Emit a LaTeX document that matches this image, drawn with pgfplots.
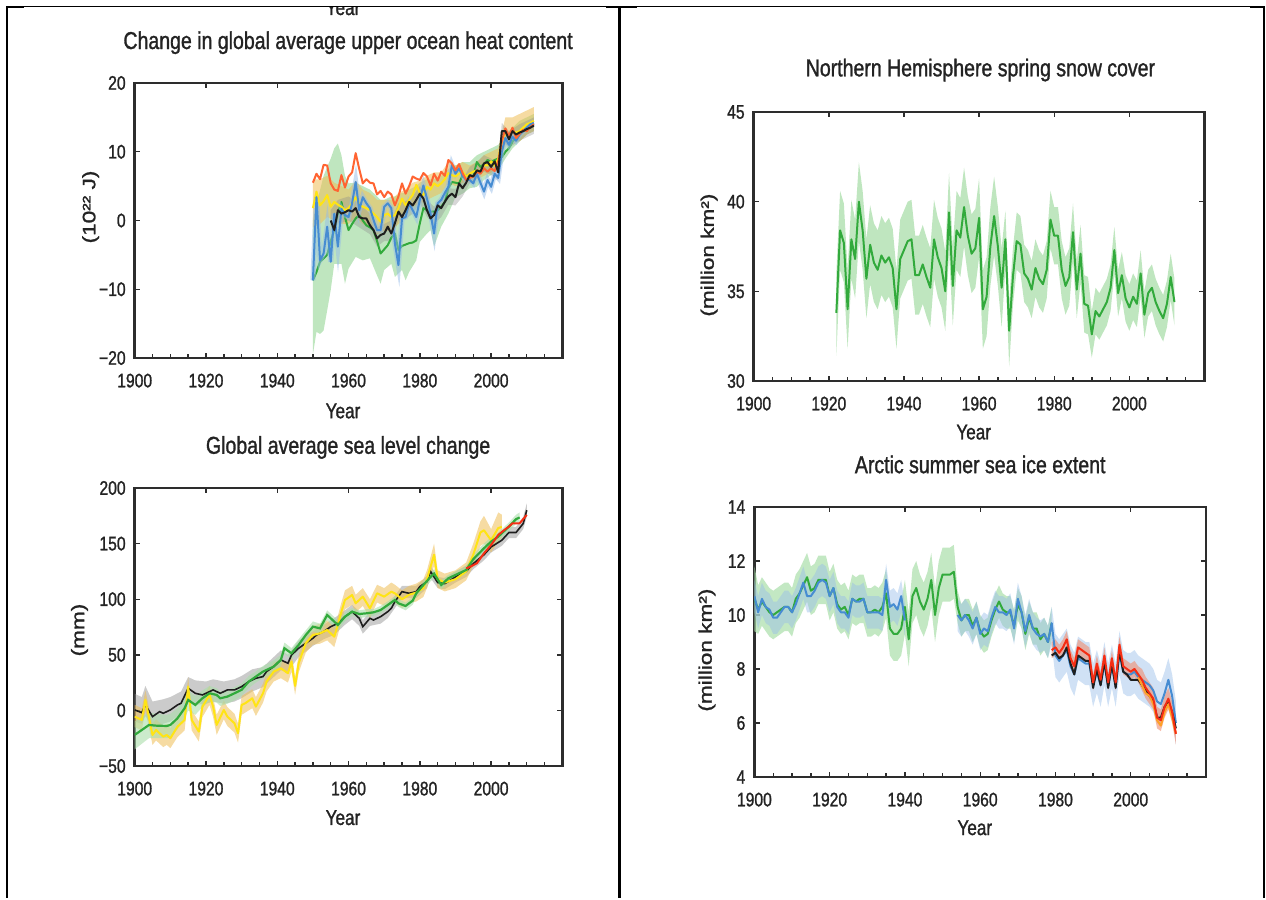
\documentclass[border=0pt]{standalone}
\usepackage{fontspec}
\setmainfont[FakeStretch=0.8, FakeBold=1.2]{Liberation Sans}
\newfontfamily\ylfont[FakeBold=1.2]{Liberation Sans}
\usepackage{graphicx}
\usepackage{pgfplots}
\usepackage{pgfplotstable}
\pgfplotsset{compat=1.18}
\usepgfplotslibrary{fillbetween}

\definecolor{axcol}{RGB}{45,45,45}
\definecolor{txtcol}{RGB}{35,35,35}
\definecolor{cgreen}{RGB}{50,170,60}
\definecolor{cgreenband}{RGB}{170,222,170}
\definecolor{cblue}{RGB}{70,140,210}
\definecolor{cblueband}{RGB}{150,188,232}
\definecolor{corange}{RGB}{255,100,50}
\definecolor{cyellow}{RGB}{255,228,20}
\definecolor{cyelband}{RGB}{238,190,85}
\definecolor{cgrayband}{RGB}{140,140,140}
\definecolor{cblack}{RGB}{30,30,30}
\definecolor{cred}{RGB}{245,45,20}
\definecolor{credband}{RGB}{240,140,110}
\definecolor{corline}{RGB}{255,160,40}

\newcommand\ticksz{\fontsize{9.8}{11}\selectfont}
\newcommand\titlesz{\fontsize{12.2}{14}\selectfont}
\newcommand\yearsz{\fontsize{10.7}{12}\selectfont}
\newcommand\ylsz{\ylfont\fontsize{11.3}{13}\selectfont}

% ---------- ocean heat content ----------
\pgfplotstableread[row sep=\\]{yr v\\
1950 5.5\\ 1951 6.8\\ 1952 6.0\\ 1953 8.1\\ 1954 8.0\\ 1955 5.4\\ 1956 4.5\\ 1957 4.3\\ 1958 6.6\\ 1959 4.8\\
1960 6.4\\ 1961 7.0\\ 1962 9.8\\ 1963 7.5\\ 1964 5.4\\ 1965 6.0\\ 1966 5.5\\ 1967 5.4\\ 1968 3.8\\ 1969 4.3\\
1970 3.4\\ 1971 4.2\\ 1972 3.8\\ 1973 2.2\\ 1974 3.5\\ 1975 5.4\\ 1976 3.9\\ 1977 5.0\\ 1978 6.4\\ 1979 6.1\\
1980 5.9\\ 1981 6.9\\ 1982 6.4\\ 1983 5.1\\ 1984 6.8\\ 1985 5.8\\ 1986 7.1\\ 1987 6.5\\ 1988 8.8\\ 1989 8.3\\
1990 7.3\\ 1991 8.2\\ 1992 6.9\\ 1993 5.9\\ 1994 6.2\\ 1995 6.4\\ 1996 7.1\\ 1997 6.8\\ 1998 7.6\\ 1999 7.1\\
2000 7.6\\ 2001 7.2\\ 2002 8.6\\ 2003 11.5\\ 2004 13.4\\ 2005 12.3\\ 2006 13.5\\ 2007 12.0\\ 2008 12.6\\ 2009 13.2\\
2010 13.0\\ 2011 13.6\\ 2012 14.0\\
}\ohcOrange

\pgfplotstableread[row sep=\\]{yr v\\
1950 1.8\\ 1951 4.2\\ 1952 2.2\\ 1953 2.8\\ 1954 3.7\\ 1955 2.0\\ 1956 2.7\\ 1957 2.3\\ 1958 2.0\\ 1959 1.5\\
1960 1.8\\ 1961 2.5\\ 1962 3.4\\ 1963 2.4\\ 1964 2.0\\ 1965 1.8\\ 1966 1.5\\ 1967 1.0\\ 1968 0.5\\ 1969 -0.2\\
1970 0.8\\ 1971 1.0\\ 1972 0.5\\ 1973 0.8\\ 1974 1.8\\ 1975 3.2\\ 1976 2.2\\ 1977 3.0\\ 1978 3.7\\ 1979 5.2\\
1980 4.0\\ 1981 3.7\\ 1982 4.9\\ 1983 4.5\\ 1984 5.4\\ 1985 5.0\\ 1986 5.4\\ 1987 6.0\\ 1988 6.9\\ 1989 6.6\\
1990 6.4\\ 1991 6.8\\ 1992 7.1\\ 1993 6.4\\ 1994 6.8\\ 1995 7.1\\ 1996 7.3\\ 1997 7.0\\ 1998 8.1\\ 1999 8.0\\
2000 8.6\\ 2001 8.0\\ 2002 9.0\\ 2003 11.5\\ 2004 12.8\\ 2005 12.5\\ 2006 13.0\\ 2007 12.8\\ 2008 13.0\\ 2009 13.5\\
2010 14.0\\ 2011 14.2\\ 2012 14.5\\
}\ohcYellow

\pgfplotstableread[row sep=\\]{yr v\\
1950 -8.7\\ 1951 3.4\\ 1952 -5.8\\ 1953 -4.8\\ 1954 -0.9\\ 1955 -6.0\\ 1956 1.0\\ 1957 -3.8\\ 1958 1.7\\ 1959 0.8\\
1960 0.5\\ 1961 2.5\\ 1962 5.6\\ 1963 1.5\\ 1964 3.4\\ 1965 2.5\\ 1966 1.8\\ 1967 0.1\\ 1968 -1.4\\ 1969 -1.4\\
1970 2.0\\ 1971 2.5\\ 1972 1.8\\ 1973 -3.3\\ 1974 -6.5\\ 1975 0.3\\ 1976 0.5\\ 1977 2.5\\ 1978 1.5\\ 1979 0.5\\
1980 3.0\\ 1981 5.1\\ 1982 3.2\\ 1983 1.0\\ 1984 -1.9\\ 1985 2.5\\ 1986 3.0\\ 1987 4.0\\ 1988 4.9\\ 1989 8.1\\
1990 6.8\\ 1991 7.6\\ 1992 6.5\\ 1993 5.9\\ 1994 5.9\\ 1995 5.4\\ 1996 6.8\\ 1997 5.5\\ 1998 4.2\\ 1999 5.9\\
2000 4.9\\ 2001 6.8\\ 2002 6.2\\ 2003 10.0\\ 2004 12.0\\ 2005 11.0\\ 2006 12.2\\ 2007 11.6\\ 2008 12.5\\ 2009 13.0\\
2010 13.5\\ 2011 14.0\\ 2012 14.2\\
}\ohcBlue

\pgfplotstableread[row sep=\\]{yr v\\
1950 -8.7\\ 1951 -7.5\\ 1952 -6.0\\ 1953 -5.5\\ 1954 -5.0\\ 1955 -3.0\\ 1956 -1.4\\ 1957 1.0\\ 1958 2.7\\ 1959 0.5\\
1960 -1.4\\ 1961 -0.5\\ 1962 0.3\\ 1963 0.8\\ 1964 0.0\\ 1965 -0.7\\ 1966 -1.0\\ 1967 -1.4\\ 1968 -3.0\\ 1969 -4.8\\
1970 -4.2\\ 1971 -3.6\\ 1972 -2.5\\ 1973 -1.9\\ 1974 -4.3\\ 1975 -3.7\\ 1976 -3.5\\ 1977 -3.3\\ 1978 -3.2\\ 1979 -2.9\\
1980 -0.4\\ 1981 1.8\\ 1982 1.5\\ 1983 1.3\\ 1984 1.3\\ 1985 1.5\\ 1986 2.0\\ 1987 2.7\\ 1988 4.7\\ 1989 5.6\\
1990 5.5\\ 1991 5.4\\ 1992 6.6\\ 1993 6.5\\ 1994 6.4\\ 1995 6.4\\ 1996 8.5\\ 1997 7.8\\ 1998 8.2\\ 1999 8.8\\
2000 8.5\\ 2001 8.8\\ 2002 9.0\\ 2003 9.2\\ 2004 10.0\\ 2005 10.5\\ 2006 11.5\\ 2007 12.0\\ 2008 12.5\\ 2009 13.0\\
2010 13.5\\ 2011 13.8\\ 2012 14.0\\
}\ohcGreen

\pgfplotstableread[row sep=\\]{yr v\\
1955 0.0\\ 1956 -1.4\\ 1957 1.5\\ 1958 1.0\\ 1959 1.2\\
1960 1.5\\ 1961 1.3\\ 1962 1.8\\ 1963 0.5\\ 1964 0.3\\ 1965 0.3\\ 1966 -0.7\\ 1967 -1.4\\ 1968 -2.6\\ 1969 -2.1\\
1970 -1.9\\ 1971 -0.9\\ 1972 -1.9\\ 1973 -0.4\\ 1974 1.3\\ 1975 0.5\\ 1976 1.5\\ 1977 2.7\\ 1978 2.2\\ 1979 3.0\\
1980 3.9\\ 1981 3.2\\ 1982 1.5\\ 1983 0.3\\ 1984 0.8\\ 1985 2.2\\ 1986 1.8\\ 1987 2.7\\ 1988 3.5\\ 1989 3.9\\
1990 3.4\\ 1991 5.4\\ 1992 4.7\\ 1993 5.5\\ 1994 6.6\\ 1995 6.4\\ 1996 7.3\\ 1997 7.1\\ 1998 8.3\\ 1999 8.5\\
2000 7.8\\ 2001 8.6\\ 2002 7.0\\ 2003 13.0\\ 2004 13.0\\ 2005 11.8\\ 2006 13.0\\ 2007 12.5\\ 2008 12.8\\ 2009 13.0\\
2010 13.3\\ 2011 13.5\\ 2012 13.8\\
}\ohcBlack

\pgfplotstableread[row sep=\\]{yr lo hi\\
1950 -19.5 0.0\\ 1951 -16.2 2.5\\ 1952 -16.5 4.4\\ 1953 -16.0 6.5\\ 1954 -13.1 7.8\\ 1955 -10.1 9.0\\
1956 -6.3 10.5\\ 1957 -6.3 11.2\\ 1958 -6.3 9.5\\ 1959 -9.2 6.5\\ 1960 -7.0 5.4\\ 1962 -5.3 5.5\\
1964 -5.8 5.0\\ 1966 -5.5 4.5\\ 1968 -8.0 3.5\\ 1969 -9.2 3.0\\ 1970 -7.2 3.0\\ 1972 -6.3 3.5\\
1973 -8.2 3.5\\ 1975 -7.2 4.0\\ 1976 -8.7 4.0\\ 1977 -7.5 4.5\\ 1979 -5.8 5.0\\ 1980 -3.1 5.5\\
1982 -1.9 6.0\\ 1983 -1.4 6.0\\ 1984 -3.8 6.0\\ 1986 -0.9 6.5\\ 1988 1.0 7.5\\ 1990 3.4 8.0\\
1992 3.9 8.5\\ 1994 4.7 8.5\\ 1996 4.9 9.5\\ 1998 5.9 10.0\\ 2000 6.6 10.5\\ 2002 7.3 11.0\\
2004 9.0 12.5\\ 2006 10.5 13.5\\ 2008 11.5 14.5\\ 2010 12.5 15.0\\ 2012 13.0 15.5\\
}\ohcGreenBand

\pgfplotstableread[row sep=\\]{yr lo hi\\
1950 -1.0 6.0\\ 1952 -0.5 6.0\\ 1954 0.5 6.5\\ 1956 0.0 5.5\\ 1958 -0.5 5.0\\ 1960 -0.5 4.5\\
1962 0.5 5.8\\ 1964 -0.5 4.5\\ 1966 -1.0 4.0\\ 1968 -2.0 3.0\\ 1970 -1.5 3.0\\ 1972 -1.5 3.0\\
1974 -0.5 4.0\\ 1976 0.5 4.5\\ 1978 2.0 5.5\\ 1980 2.5 5.8\\ 1982 3.0 6.5\\ 1984 3.5 7.0\\
1986 4.0 7.0\\ 1988 5.5 8.5\\ 1990 5.0 8.0\\ 1992 5.5 8.5\\ 1994 5.5 8.0\\ 1996 6.0 8.5\\
1998 6.5 9.5\\ 2000 7.0 10.0\\ 2002 7.5 10.5\\ 2004 11.0 15.0\\ 2006 11.5 15.0\\ 2008 11.5 15.5\\
2010 12.5 16.0\\ 2012 13.0 16.5\\
}\ohcYellowBand

\pgfplotstableread[row sep=\\]{yr lo hi\\
1955 -1.5 1.5\\ 1957 -0.5 3.0\\ 1960 0.0 3.5\\ 1963 -1.0 2.5\\ 1966 -2.0 1.0\\ 1968 -3.8 -1.0\\
1970 -3.0 -0.5\\ 1972 -3.0 0.0\\ 1974 0.0 2.5\\ 1976 0.2 2.8\\ 1978 1.0 3.5\\ 1980 2.5 5.0\\
1982 0.5 3.0\\ 1984 -0.5 2.0\\ 1986 0.5 3.0\\ 1988 2.3 4.7\\ 1990 2.2 4.6\\ 1992 3.5 5.9\\
1994 5.4 7.8\\ 1996 6.1 8.5\\ 1998 7.1 9.5\\ 2000 6.6 9.0\\ 2002 5.8 8.2\\ 2003 11.8 14.2\\
2005 10.6 13.0\\ 2008 11.6 14.0\\ 2010 12.1 14.5\\ 2012 12.6 15.0\\
}\ohcGrayBand

% ---------- sea level ----------
\pgfplotstableread[row sep=\\]{yr v\\
1900 -22\\ 1902 -17.6\\ 1904 -13.1\\ 1906 -13.7\\ 1909 -14.0\\ 1910 -13.1\\ 1912 -7.1\\ 1914 1.9\\
1915 9.4\\ 1917 4.9\\ 1919 10.9\\ 1921 15.4\\ 1923 13.9\\ 1924 10.9\\ 1926 12.4\\ 1928 15.4\\
1930 18.5\\ 1932 25.9\\ 1934 30.4\\ 1936 34.9\\ 1939 39.4\\ 1941 45.4\\ 1942 55.9\\ 1944 51.4\\
1946 58.9\\ 1948 67.8\\ 1950 75.3\\ 1952 73.8\\ 1954 85.8\\ 1956 79.8\\ 1957 76.8\\ 1959 84.3\\
1961 88.8\\ 1963 86.7\\ 1965 87.3\\ 1967 88.2\\ 1969 90.3\\ 1971 94.8\\ 1973 99.3\\ 1974 96.3\\
1976 93.9\\ 1978 98.7\\ 1979 105.3\\ 1981 112.8\\ 1983 120.0\\ 1984 123.0\\ 1986 112.8\\ 1988 118.8\\
1990 121.8\\ 1993 126.3\\ 1995 136.0\\ 1998 145.8\\ 2000 151.8\\ 2002 156.3\\ 2005 165.3\\ 2007 172.0\\
2008 173.5\\
}\slGreen

\pgfplotstableread[row sep=\\]{yr v\\
1900 0.4\\ 1902 -2.0\\ 1903 4.9\\ 1905 -5.6\\ 1907 -1.1\\ 1908 -2.6\\ 1910 0.4\\ 1912 4.9\\
1913 6.4\\ 1915 19.9\\ 1917 15.4\\ 1919 13.9\\ 1921 16.9\\ 1922 18.4\\ 1924 15.4\\ 1926 18.4\\
1928 18.4\\ 1930 21.4\\ 1932 25.9\\ 1934 28.9\\ 1936 30.4\\ 1937 34.9\\ 1939 39.4\\ 1941 45.4\\
1943 42.4\\ 1944 49.9\\ 1946 55.9\\ 1948 60.4\\ 1950 64.9\\ 1951 67.8\\ 1953 70.8\\ 1955 75.3\\
1957 78.3\\ 1959 84.3\\ 1961 88.8\\ 1963 82.8\\ 1964 75.3\\ 1966 82.8\\ 1967 81.3\\ 1969 84.3\\
1971 88.8\\ 1972 91.8\\ 1973 97.8\\ 1975 106.8\\ 1977 105.3\\ 1979 106.8\\ 1980 111.3\\ 1982 115.8\\
1983 125.0\\ 1985 115.0\\ 1987 114.0\\ 1990 120.0\\ 1993 125.0\\ 1995 132.0\\ 1998 140.0\\ 2000 147.0\\
2003 153.0\\ 2005 160.0\\ 2007 160.0\\ 2009 168.0\\ 2010 180.0\\
}\slBlack

\pgfplotstableread[row sep=\\]{yr v\\
1900 -5.6\\ 1902 -8.6\\ 1903 9.4\\ 1905 -22.1\\ 1906 -17.6\\ 1908 -23.6\\ 1909 -22.1\\ 1910 -25.1\\
1912 -14.6\\ 1914 -8.6\\ 1915 21.4\\ 1916 -8.6\\ 1918 -19.1\\ 1919 3.4\\ 1921 13.9\\ 1922 3.4\\
1923 -13.1\\ 1925 0.4\\ 1926 -5.6\\ 1928 -11.6\\ 1929 -20.6\\ 1930 4.9\\ 1931 6.4\\ 1933 10.9\\
1934 3.4\\ 1936 15.4\\ 1937 25.9\\ 1939 34.9\\ 1941 37.9\\ 1943 33.4\\ 1944 43.9\\ 1945 22.0\\
1946 42.4\\ 1948 60.4\\ 1950 67.8\\ 1952 69.3\\ 1954 72.3\\ 1956 66.3\\ 1957 76.8\\ 1958 88.8\\
1959 99.3\\ 1961 103.8\\ 1962 96.3\\ 1964 102.3\\ 1966 91.8\\ 1968 105.3\\ 1970 102.3\\ 1972 106.8\\
1973 105.3\\ 1975 100.0\\ 1977 104.0\\ 1979 106.0\\ 1981 110.0\\ 1982 118.0\\ 1984 140.0\\ 1985 118.0\\
1987 115.0\\ 1990 118.0\\ 1993 125.0\\ 1995 140.0\\ 1997 160.0\\ 1998 162.0\\ 2000 153.0\\ 2002 164.0\\
2003 165.0\\
}\slYellow

\pgfplotstableread[row sep=\\]{yr v\\
1993 127.8\\ 1994 129.0\\ 1996 132.3\\ 1998 141.3\\ 2000 148.8\\ 2002 157.8\\ 2004 163.0\\ 2005 165.3\\
2006 168.3\\ 2008 168.3\\ 2009 172.0\\ 2010 175.8\\
}\slRed

\pgfplotstableread[row sep=\\]{yr lo hi\\
1900 -10 15\\ 1902 -12 12\\ 1903 -5 22\\ 1905 -15 8\\ 1908 -12 10\\ 1910 -10 12\\ 1913 -3 17\\
1915 10 30\\ 1917 5 27\\ 1920 6 26\\ 1922 8 28\\ 1925 6 26\\ 1928 8 28\\ 1930 11 31\\ 1933 17 37\\
1936 21 39\\ 1939 30 48\\ 1941 36 54\\ 1943 35 50\\ 1946 48 63\\ 1950 58 71\\ 1953 64 77\\
1956 68 83\\ 1959 77 90\\ 1961 82 95\\ 1963 76 89\\ 1964 69 81\\ 1966 76 89\\ 1969 78 90\\
1971 83 95\\ 1973 92 103\\ 1975 101 112\\ 1979 101 112\\ 1982 110 121\\ 1983 119 130\\ 1985 110 120\\
1987 109 119\\ 1990 115 125\\ 1993 120 130\\ 1995 127 137\\ 1998 135 145\\ 2000 142 152\\
2003 148 158\\ 2005 155 165\\ 2007 155 165\\ 2009 163 174\\ 2010 174 186\\
}\slGrayBand

\pgfplotstableread[row sep=\\]{yr lo hi\\
1900 -35 -10\\ 1902 -30 -6\\ 1904 -25 -2\\ 1906 -25 -3\\ 1909 -25 -4\\ 1910 -24 -3\\ 1912 -17 2\\
1914 -8 11\\ 1915 0 18\\ 1917 -4 13\\ 1919 3 18\\ 1921 8 22\\ 1923 7 20\\ 1924 4 17\\ 1926 6 18\\
1928 9 21\\ 1930 13 24\\ 1932 20 31\\ 1934 25 35\\ 1936 29 40\\ 1939 34 45\\ 1941 40 50\\
1942 51 61\\ 1944 46 56\\ 1946 54 64\\ 1948 63 72\\ 1950 71 80\\ 1952 69 78\\ 1954 81 90\\
1956 75 84\\ 1957 72 81\\ 1959 80 88\\ 1961 85 92\\ 1963 83 90\\ 1965 84 91\\ 1967 85 91\\
1969 87 94\\ 1971 91 98\\ 1973 96 103\\ 1974 93 100\\ 1976 90 97\\ 1978 95 102\\ 1979 102 108\\
1981 109 116\\ 1983 116 124\\ 1984 119 127\\ 1986 109 117\\ 1988 115 122\\ 1990 118 125\\
1993 123 130\\ 1995 132 140\\ 1998 142 150\\ 2000 148 156\\ 2002 152 160\\ 2005 161 169\\
2007 168 176\\ 2008 169 178\\
}\slGreenBand

\pgfplotstableread[row sep=\\]{yr lo hi\\
1900 -15 5\\ 1902 -18 2\\ 1903 0 18\\ 1905 -31 -12\\ 1906 -27 -8\\ 1908 -33 -14\\ 1909 -31 -12\\
1910 -34 -16\\ 1912 -24 -5\\ 1914 -18 1\\ 1915 12 30\\ 1916 -18 0\\ 1918 -28 -10\\ 1919 -6 12\\
1921 5 22\\ 1922 -6 12\\ 1923 -22 -4\\ 1925 -8 9\\ 1926 -14 3\\ 1928 -20 -3\\ 1929 -29 -12\\
1930 -4 13\\ 1931 -2 15\\ 1933 2 19\\ 1934 -5 12\\ 1936 7 24\\ 1937 17 34\\ 1939 26 43\\
1941 29 46\\ 1943 25 41\\ 1944 35 52\\ 1945 14 30\\ 1946 34 50\\ 1948 52 68\\ 1950 59 76\\
1952 60 78\\ 1954 63 81\\ 1956 57 75\\ 1957 68 85\\ 1958 80 97\\ 1959 91 108\\ 1961 95 112\\
1962 88 104\\ 1964 94 110\\ 1966 83 100\\ 1968 97 113\\ 1970 94 110\\ 1972 98 115\\ 1973 97 113\\
1975 92 108\\ 1977 96 112\\ 1979 98 114\\ 1981 102 118\\ 1982 110 126\\ 1984 130 150\\ 1985 110 126\\
1987 107 123\\ 1990 110 126\\ 1993 117 133\\ 1995 130 150\\ 1997 148 170\\ 1998 150 175\\
2000 142 163\\ 2002 152 178\\ 2003 155 176\\
}\slYellowBand

% ---------- snow cover ----------
\pgfplotstableread[row sep=\\]{yr v lo hi\\
1922 33.8 31.4 36.0\\ 1923 38.4 36.2 40.6\\ 1924 37.7 35.5 39.9\\ 1925 34.0 31.8 36.2\\ 1926 37.9 35.7 40.1\\
1927 36.8 34.6 39.0\\ 1928 40.0 37.8 42.2\\ 1929 38.4 36.2 40.6\\ 1930 35.7 33.5 37.9\\ 1931 37.6 35.4 39.8\\
1932 36.6 34.4 38.8\\ 1933 36.2 34.0 38.4\\ 1934 37.0 34.8 39.2\\ 1935 36.6 34.4 38.8\\ 1936 36.9 34.7 39.1\\
1937 36.3 34.1 38.5\\ 1938 34.0 31.8 36.2\\ 1939 36.8 34.6 39.0\\ 1940 37.3 35.1 39.5\\ 1941 37.8 35.6 40.0\\
1942 37.9 35.7 40.1\\ 1943 35.9 33.7 38.1\\ 1944 35.9 33.7 38.1\\ 1945 36.5 34.3 38.7\\ 1946 35.8 33.6 38.0\\
1947 35.2 33.0 37.4\\ 1948 37.9 35.7 40.1\\ 1949 36.9 34.7 39.1\\ 1950 36.3 34.1 38.5\\ 1951 35.0 32.8 37.2\\
1952 39.4 37.2 41.6\\ 1953 35.3 33.1 37.5\\ 1954 38.4 36.2 40.6\\ 1955 38.0 35.8 40.2\\ 1956 39.7 37.5 41.9\\
1957 38.1 35.9 40.3\\ 1958 37.1 34.9 39.3\\ 1959 37.4 35.2 39.6\\ 1960 39.1 36.9 41.3\\ 1961 34.0 31.8 36.2\\
1962 34.7 32.5 36.9\\ 1963 37.5 35.3 39.7\\ 1964 39.2 37.0 41.4\\ 1965 37.5 35.3 39.7\\ 1966 35.2 33.0 37.4\\
1967 37.9 36.3 39.5\\ 1968 32.8 30.8 34.4\\ 1969 35.8 34.2 37.4\\ 1970 37.8 36.2 39.4\\ 1971 37.6 36.0 39.2\\
1972 36.0 34.4 37.6\\ 1973 35.7 34.1 37.3\\ 1974 35.1 33.5 36.7\\ 1975 36.3 34.7 37.9\\ 1976 35.7 34.1 37.3\\
1977 35.4 33.8 37.0\\ 1978 36.2 34.6 37.8\\ 1979 39.0 37.4 40.6\\ 1980 38.1 36.5 39.7\\ 1981 38.1 36.5 39.7\\
1982 36.2 34.6 37.8\\ 1983 35.3 33.7 36.9\\ 1984 35.8 34.2 37.4\\ 1985 38.3 36.7 39.9\\ 1986 35.1 33.5 36.7\\
1987 37.1 35.5 38.7\\ 1988 34.3 32.7 35.9\\ 1989 34.2 32.6 35.8\\ 1990 32.6 31.3 33.9\\ 1991 33.9 32.6 35.2\\
1992 33.6 32.3 34.9\\ 1993 34.0 32.7 35.3\\ 1994 34.4 33.1 35.7\\ 1995 35.2 33.9 36.5\\ 1996 37.3 36.0 38.6\\
1997 34.9 33.6 36.2\\ 1998 35.9 34.6 37.2\\ 1999 34.6 33.3 35.9\\ 2000 34.1 32.8 35.4\\ 2001 34.7 33.4 36.0\\
2002 34.3 33.0 35.6\\ 2003 36.0 34.7 37.3\\ 2004 33.7 32.4 35.0\\ 2005 34.9 33.6 36.2\\ 2006 35.2 33.9 36.5\\
2007 34.4 33.1 35.7\\ 2008 33.9 32.6 35.2\\ 2009 33.5 32.2 34.8\\ 2010 34.3 33.0 35.6\\ 2011 35.8 34.5 37.1\\
2012 34.4 33.1 35.7\\
}\snow

% ---------- sea ice ----------
\pgfplotstableread[row sep=\\]{yr v lo hi\\
1900 10.6 9.4 11.8\\ 1901 10.2 9.3 11.1\\ 1902 10.5 9.6 11.4\\ 1903 10.3 9.4 11.2\\ 1904 10.1 9.2 11.0\\
1905 10.0 9.1 10.9\\ 1906 10.1 9.2 11.0\\ 1907 10.2 9.3 11.1\\ 1908 10.3 9.4 11.2\\ 1909 10.3 9.4 11.2\\
1910 10.1 9.2 11.0\\ 1911 10.6 9.7 11.5\\ 1912 10.8 9.9 11.7\\ 1913 11.1 10.2 12.0\\ 1914 11.4 10.5 12.3\\
1915 10.9 10.0 11.8\\ 1916 11.0 10.1 11.9\\ 1917 11.3 10.4 12.2\\ 1918 11.3 10.4 12.2\\ 1919 11.3 10.4 12.2\\
1920 10.7 9.8 11.6\\ 1921 11.0 10.1 11.9\\ 1922 10.4 9.5 11.3\\ 1923 10.2 9.3 11.1\\ 1924 10.3 9.4 11.2\\
1925 10.0 9.1 10.9\\ 1926 10.6 9.7 11.5\\ 1927 10.5 9.6 11.4\\ 1928 10.6 9.7 11.5\\ 1929 10.6 9.7 11.5\\
1930 10.1 9.2 11.0\\ 1931 10.1 9.2 11.0\\ 1932 10.2 9.3 11.1\\ 1933 10.1 9.2 11.0\\ 1934 10.3 9.4 11.2\\
1935 10.8 9.9 11.7\\ 1936 9.5 8.5 10.5\\ 1937 9.3 8.3 10.3\\ 1938 9.3 8.3 10.3\\ 1939 9.5 8.5 10.5\\
1940 10.3 9.3 11.3\\ 1941 9.1 8.1 10.1\\ 1942 10.7 9.7 11.7\\ 1943 11.0 10.0 12.0\\ 1944 10.5 9.5 11.5\\
1945 10.2 9.2 11.2\\ 1946 10.6 9.6 11.6\\ 1947 11.3 10.3 12.3\\ 1948 10.0 9.0 11.0\\ 1949 11.0 10.0 12.0\\
1950 11.5 10.5 12.5\\ 1951 11.5 10.5 12.5\\ 1952 11.5 10.5 12.5\\ 1953 11.6 10.6 12.6\\ 1954 10.3 9.7 10.9\\
1955 9.8 9.2 10.4\\ 1956 10.0 9.4 10.6\\ 1957 10.0 9.4 10.6\\ 1958 9.6 9.0 10.2\\ 1959 9.9 9.3 10.5\\
1960 9.4 8.8 10.0\\ 1961 9.2 8.6 9.8\\ 1962 9.3 8.7 9.9\\ 1963 9.8 9.2 10.4\\ 1964 10.2 9.6 10.8\\
1965 10.5 9.9 11.1\\ 1966 10.2 9.6 10.8\\ 1967 10.1 9.5 10.7\\ 1968 10.1 9.5 10.7\\ 1969 9.6 9.0 10.2\\
1970 10.4 9.8 11.0\\ 1971 10.1 9.5 10.7\\ 1972 9.3 8.7 9.9\\ 1973 9.9 9.3 10.5\\ 1974 9.5 8.9 10.1\\
1975 9.5 8.9 10.1\\ 1976 9.1 8.5 9.7\\ 1977 9.3 8.7 9.9\\ 1978 9.0 8.4 9.6\\ 1979 9.7 9.1 10.3\\
}\iceGreen

\pgfplotstableread[row sep=\\]{yr v lo hi\\
1900 10.7 10.1 11.3\\ 1901 10.1 9.5 10.7\\ 1902 10.6 10.0 11.2\\ 1903 10.3 9.7 10.9\\ 1904 10.2 9.6 10.8\\
1905 9.9 9.3 10.5\\ 1906 9.9 9.3 10.5\\ 1907 10.1 9.5 10.7\\ 1908 10.3 9.7 10.9\\ 1909 10.3 9.7 10.9\\
1910 10.1 9.5 10.7\\ 1911 10.4 9.8 11.0\\ 1912 10.8 10.2 11.4\\ 1913 11.2 10.6 11.8\\ 1914 10.7 10.1 11.3\\
1915 10.7 10.1 11.3\\ 1916 10.9 10.3 11.5\\ 1917 11.2 10.6 11.8\\ 1918 11.3 10.7 11.9\\ 1919 11.2 10.6 11.8\\
1920 10.7 10.1 11.3\\ 1921 11.0 10.4 11.6\\ 1922 10.3 9.7 10.9\\ 1923 10.1 9.5 10.7\\ 1924 10.1 9.5 10.7\\
1925 9.9 9.3 10.5\\ 1926 10.6 10.0 11.2\\ 1927 10.5 9.9 11.1\\ 1928 10.5 9.9 11.1\\ 1929 10.6 10.0 11.2\\
1930 10.1 9.5 10.7\\ 1931 10.1 9.5 10.7\\ 1932 10.1 9.5 10.7\\ 1933 10.1 9.5 10.7\\ 1934 10.0 9.4 10.6\\
1935 11.3 10.7 11.9\\ 1936 10.3 9.7 10.9\\ 1937 10.4 9.8 11.0\\ 1938 10.2 9.6 10.8\\ 1939 10.7 10.1 11.3\\
1940 9.8 9.2 10.4\\
}\iceBlueA

\pgfplotstableread[row sep=\\]{yr v lo hi\\
1954 10.0 9.4 10.6\\ 1955 9.8 9.2 10.4\\ 1956 10.0 9.4 10.6\\ 1957 9.8 9.2 10.4\\ 1958 9.5 8.9 10.1\\
1959 9.9 9.3 10.5\\ 1960 9.3 8.7 9.9\\ 1961 9.5 8.9 10.1\\ 1962 9.4 8.8 10.0\\ 1963 9.9 9.3 10.5\\
1964 10.3 9.7 10.9\\ 1965 10.1 9.5 10.7\\ 1966 10.1 9.5 10.7\\ 1967 10.0 9.4 10.6\\ 1968 10.2 9.6 10.8\\
1969 9.5 8.9 10.1\\ 1970 10.6 10.0 11.2\\ 1971 10.1 9.5 10.7\\ 1972 9.4 8.8 10.0\\ 1973 10.0 9.4 10.6\\
1974 9.5 8.9 10.1\\ 1975 9.3 8.7 9.9\\ 1976 9.2 8.6 9.8\\ 1977 9.3 8.7 9.9\\ 1978 9.0 8.4 9.6\\
1979 9.7 8.9 10.3\\ 1980 8.5 7.7 9.3\\ 1981 8.3 7.5 9.1\\ 1982 8.5 7.7 9.3\\ 1983 8.7 7.9 9.5\\
1984 8.1 7.3 8.9\\ 1985 7.8 7.0 8.6\\ 1986 8.4 7.6 9.2\\ 1987 8.3 7.5 9.1\\ 1988 8.2 7.4 9.0\\
1989 8.2 7.4 9.0\\ 1990 7.4 6.6 8.2\\ 1991 7.9 7.1 8.7\\ 1992 7.4 6.6 8.2\\ 1993 8.2 7.4 9.0\\
1994 7.4 6.6 8.2\\ 1995 8.1 7.3 8.9\\ 1996 7.4 6.6 8.2\\ 1997 8.6 7.8 9.4\\ 1998 7.9 7.1 8.7\\
1999 7.8 7.0 8.6\\ 2000 7.8 7.0 8.6\\ 2001 7.9 7.1 8.7\\ 2002 7.7 6.9 8.5\\ 2003 7.6 6.8 8.4\\
2004 7.5 6.7 8.3\\ 2005 7.4 6.6 8.2\\ 2006 7.2 6.4 8.0\\ 2007 6.8 6.0 7.6\\ 2008 6.7 5.9 7.5\\
2009 7.1 6.3 7.9\\ 2010 7.6 6.8 8.4\\ 2011 7.0 6.2 7.8\\ 2012 6.0 5.2 6.8\\
}\iceBlueB

\pgfplotstableread[row sep=\\]{yr v lo hi\\
1979 8.7 8.4 9.0\\ 1980 8.8 8.5 9.1\\ 1981 8.6 8.3 8.9\\ 1982 8.8 8.5 9.1\\ 1983 9.1 8.8 9.4\\
1984 8.4 8.1 8.7\\ 1985 8.1 7.8 8.4\\ 1986 8.8 8.5 9.1\\ 1987 8.7 8.4 9.0\\ 1988 8.6 8.3 8.9\\
1989 8.5 8.2 8.8\\ 1990 7.5 7.2 7.8\\ 1991 8.2 7.9 8.5\\ 1992 7.6 7.3 7.9\\ 1993 8.5 8.2 8.8\\
1994 7.5 7.2 7.8\\ 1995 8.4 8.1 8.7\\ 1996 7.5 7.2 7.8\\ 1997 8.9 8.6 9.2\\ 1998 8.1 7.8 8.4\\
1999 8.0 7.7 8.3\\ 2000 7.9 7.6 8.2\\ 2001 8.0 7.7 8.3\\ 2002 7.8 7.5 8.1\\ 2003 7.6 7.2 8.0\\
2004 7.3 6.9 7.7\\ 2005 7.1 6.7 7.5\\ 2006 6.9 6.5 7.3\\ 2007 6.2 5.8 6.6\\ 2008 6.1 5.7 6.5\\
2009 6.6 6.2 7.0\\ 2010 6.9 6.5 7.3\\ 2011 6.4 6.0 6.8\\ 2012 5.6 5.2 6.0\\
}\iceRed

\pgfplotstableread[row sep=\\]{yr v\\
1979 8.5\\ 1980 8.6\\ 1981 8.4\\ 1982 8.5\\ 1983 8.8\\ 1984 8.2\\ 1985 7.8\\ 1986 8.5\\ 1987 8.4\\
1988 8.3\\ 1989 8.3\\ 1990 7.3\\ 1991 8.0\\ 1992 7.4\\ 1993 8.3\\ 1994 7.3\\ 1995 8.2\\ 1996 7.3\\
1997 8.7\\ 1998 7.9\\ 1999 7.8\\ 2000 7.6\\ 2001 7.6\\ 2002 7.6\\ 2003 7.4\\ 2004 7.2\\ 2005 7.0\\
2006 6.8\\ 2007 6.2\\ 2008 6.2\\ 2009 6.6\\ 2010 6.8\\ 2011 6.4\\ 2012 5.8\\
}\iceBlack

\pgfplotstableread[row sep=\\]{yr v\\
2002 7.7\\ 2003 7.4\\ 2004 7.1\\ 2005 7.0\\ 2006 6.7\\ 2007 6.1\\ 2008 5.9\\ 2009 6.4\\ 2010 6.7\\
2011 6.2\\ 2012 5.6\\
}\iceOrange

\newcommand\band[4]{%
  \addplot[name path=#4hi, draw=none, forget plot] table[x=yr,y=hi]{#1};
  \addplot[name path=#4lo, draw=none, forget plot] table[x=yr,y=lo]{#1};
  \addplot[fill=#2, fill opacity=#3, draw=none, forget plot] fill between[of=#4hi and #4lo];
}

\pgfplotsset{
  panel/.style={
    scale only axis, anchor=north west,
    xmin=1900, xmax=2020,
    xtick={1900,1920,1940,1960,1980,2000},
    xticklabels={1900,1920,1940,1960,1980,2000},
    extra x ticks={1905,1910,1915,1925,1930,1935,1945,1950,1955,1965,1970,1975,1985,1990,1995,2005,2010,2015},
    extra x tick labels={},
    extra x tick style={xtick pos=bottom, major tick length=2pt},
    tick align=inside,
    major tick length=2.6pt,
    every tick/.style={draw=axcol, line width=0.7pt},
    axis line style={draw=axcol, line width=1.3pt},
    tick label style={font=\ticksz, text=txtcol},
    xticklabel style={yshift=-4.3pt},
    yticklabel style={xshift=-1pt},
    title style={font=\titlesz, text=txtcol, anchor=base},
    xlabel style={font=\yearsz, text=txtcol, anchor=base},
    ylabel style={font=\ylsz, text=txtcol, anchor=center},
    xlabel={Year},
  },
  dl/.style={line width=1pt, line join=round},
}

\begin{document}
\begin{tikzpicture}
\path (0,0) rectangle (633pt,-449pt);

% ocean heat content
\begin{axis}[panel, at={(67.35pt,-41.5pt)}, width=213.85pt, height=137.5pt,
  ymin=-20, ymax=20, ytick={-20,-10,0,10,20}, yticklabels={−20,−10,0,10,20},
  title={Change in global average upper ocean heat content},
  title style={at={(axis description cs:0.499,1.08)}},
  xlabel style={at={(axis description cs:0.487,-0.219)}},
  ylabel={\scalebox{1}[0.8]{(10²² J)}},
  ylabel style={at={(axis description cs:-0.103,0.549)}},
]
\band{\ohcGreenBand}{cgreenband}{0.75}{og}
\band{\ohcYellowBand}{cyelband}{0.55}{oy}
\band{\ohcGrayBand}{cgrayband}{0.35}{ok}
\addplot[cgreen, dl] table[x=yr,y=v]{\ohcGreen};
\addplot[cblueband, line width=2.6pt, opacity=0.5] table[x=yr,y=v]{\ohcBlue};
\addplot[cyellow, dl] table[x=yr,y=v]{\ohcYellow};
\addplot[cblue, dl] table[x=yr,y=v]{\ohcBlue};
\addplot[corange, dl] table[x=yr,y=v]{\ohcOrange};
\addplot[cblack, dl] table[x=yr,y=v]{\ohcBlack};
\end{axis}

% snow cover
\begin{axis}[panel, at={(376.85pt,-56pt)}, width=225.4pt, height=134.5pt,
  ymin=30, ymax=45, ytick={30,35,40,45}, yticklabels={30,35,40,45},
  title={Northern Hemisphere spring snow cover},
  title style={at={(axis description cs:0.503,1.088)}},
  xlabel style={at={(axis description cs:0.488,-0.217)}},
  ylabel={\scalebox{1}[0.8]{(million km²)}},
  ylabel style={at={(axis description cs:-0.099,0.468)}},
]
\band{\snow}{cgreenband}{0.75}{sn}
\addplot[cgreen, dl] table[x=yr,y=v]{\snow};
\end{axis}

% sea level
\begin{axis}[panel, at={(67.35pt,-244pt)}, width=213.85pt, height=139pt,
  ymin=-50, ymax=200, ytick={-50,0,50,100,150,200}, yticklabels={−50,0,50,100,150,200},
  title={Global average sea level change},
  title style={at={(axis description cs:0.499,1.080)}},
  xlabel style={at={(axis description cs:0.487,-0.212)}},
  ylabel={\scalebox{1}[0.8]{(mm)}},
  ylabel style={at={(axis description cs:-0.129,0.489)}},
]
\band{\slGrayBand}{cgrayband}{0.45}{sk}
\band{\slYellowBand}{cyelband}{0.55}{sy}
\band{\slGreenBand}{cgreenband}{0.6}{sg}
\addplot[cblack, line width=0.8pt] table[x=yr,y=v]{\slBlack};
\addplot[cyellow, dl] table[x=yr,y=v]{\slYellow};
\addplot[cgreen, line width=1.1pt] table[x=yr,y=v]{\slGreen};
\addplot[cred, dl] table[x=yr,y=v]{\slRed};
\end{axis}

% sea ice
\begin{axis}[panel, at={(377.2pt,-253.5pt)}, width=225.8pt, height=135pt,
  ymin=4, ymax=14, ytick={4,6,8,10,12,14}, yticklabels={4,6,8,10,12,14},
  title={Arctic summer sea ice extent},
  title style={at={(axis description cs:0.5,1.081)}},
  xlabel style={at={(axis description cs:0.488,-0.215)}},
  ylabel={\scalebox{1}[0.8]{(million km²)}},
  ylabel style={at={(axis description cs:-0.105,0.47)}},
]
\band{\iceGreen}{cgreenband}{0.7}{ig}
\band{\iceBlueA}{cblueband}{0.45}{ia}
\band{\iceBlueB}{cblueband}{0.45}{ib}
\band{\iceRed}{credband}{0.6}{ir}
\addplot[cgreen, dl] table[x=yr,y=v]{\iceGreen};
\addplot[cblue, dl] table[x=yr,y=v]{\iceBlueA};
\addplot[cblue, dl] table[x=yr,y=v]{\iceBlueB};
\addplot[cblack, dl] table[x=yr,y=v]{\iceBlack};
\addplot[corline, dl] table[x=yr,y=v]{\iceOrange};
\addplot[cred, dl] table[x=yr,y=v]{\iceRed};
\end{axis}

% table frame
\draw[line width=0.65pt] (3pt,-3.25pt) -- (631.5pt,-3.25pt);
\draw[line width=1.1pt] (3pt,-3.5pt) -- (12pt,-3.5pt);
\draw[line width=1.1pt] (303pt,-3.5pt) -- (318.5pt,-3.5pt);
\draw[line width=1.1pt] (625pt,-3.5pt) -- (632pt,-3.5pt);
\draw[line width=1pt] (3.5pt,-3pt) -- (3.5pt,-449pt);
\draw[line width=1.3pt] (309.8pt,-3pt) -- (309.8pt,-449pt);
\draw[line width=1.3pt] (631.9pt,-3pt) -- (631.9pt,-449pt);
\begin{scope}
\clip (0,-3.6pt) rectangle (633pt,-20pt);
\node[anchor=base, font=\yearsz, text=txtcol, inner sep=0pt] at (171.5pt,-7.5pt) {Year};
\end{scope}
\end{tikzpicture}
\end{document}
